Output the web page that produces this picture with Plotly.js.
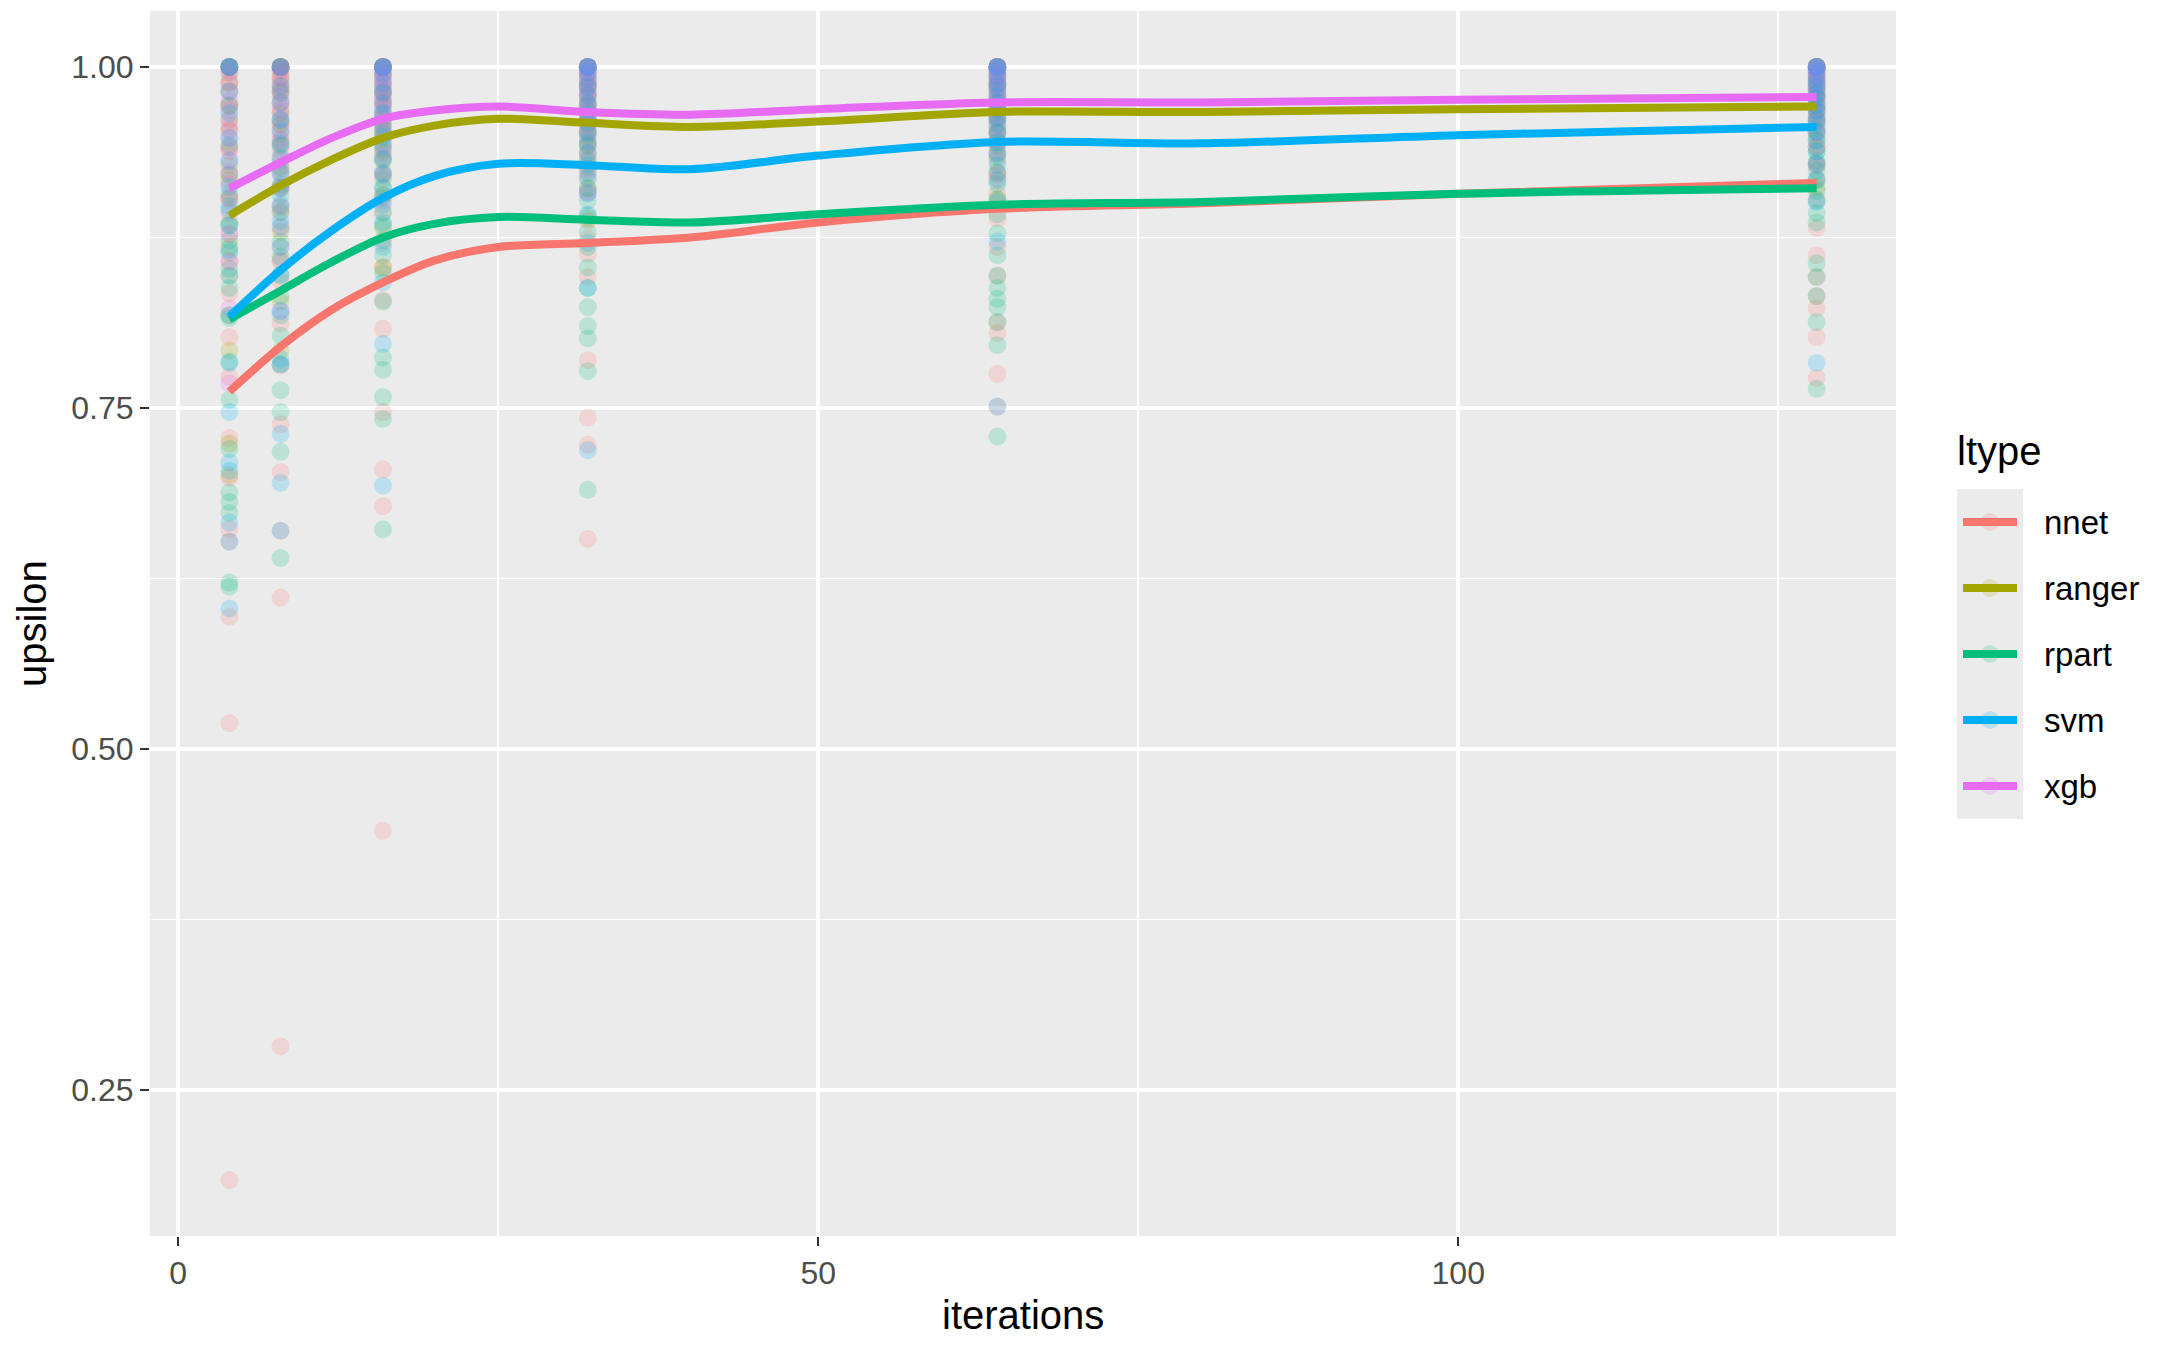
<!DOCTYPE html>
<html>
<head>
<meta charset="utf-8">
<script src="https://cdn.plot.ly/plotly-3.0.1.min.js"></script>
<style>html,body{margin:0;padding:0;background:#fff;}#chart{width:2170px;height:1347px;}</style>
</head>
<body>
<div id="chart"></div>
<script>
// ---- data ----
const iterations = [4, 8, 16, 32, 64, 128];
const types = ['nnet', 'ranger', 'rpart', 'svm', 'xgb'];
const colors = ['#F8766D', '#A3A500', '#00BF7D', '#00B0F6', '#E76BF3'];

// observed upsilon values per iteration column (order follows `iterations`)
const nnet = [
  [0.184, 0.519, 0.597, 0.652, 0.661, 0.699, 0.728, 0.773, 0.802, 0.834, 0.858, 0.877, 0.903, 0.921, 0.938, 0.957, 0.972, 0.988, 1.0, 1.0],
  [0.282, 0.611, 0.660, 0.703, 0.738, 0.781, 0.812, 0.843, 0.868, 0.893, 0.912, 0.927, 0.946, 0.958, 0.969, 0.983, 0.991, 1.0, 1.0, 1.0],
  [0.440, 0.678, 0.705, 0.747, 0.808, 0.829, 0.853, 0.871, 0.894, 0.906, 0.923, 0.937, 0.951, 0.962, 0.974, 0.981, 0.993, 1.0, 1.0, 1.0],
  [0.654, 0.723, 0.743, 0.785, 0.846, 0.863, 0.874, 0.887, 0.908, 0.919, 0.932, 0.943, 0.953, 0.961, 0.971, 0.979, 0.987, 0.995, 1.0, 1.0],
  [0.751, 0.775, 0.805, 0.813, 0.847, 0.868, 0.889, 0.907, 0.918, 0.931, 0.942, 0.951, 0.962, 0.969, 0.978, 0.986, 0.993, 1.0, 1.0, 1.0],
  [0.772, 0.802, 0.823, 0.832, 0.846, 0.862, 0.882, 0.903, 0.917, 0.929, 0.941, 0.952, 0.961, 0.968, 0.977, 0.985, 0.992, 1.0, 1.0, 1.0]
];
const ranger = [
  [0.701, 0.724, 0.792, 0.818, 0.847, 0.868, 0.886, 0.904, 0.917, 0.928, 0.941, 0.953, 0.962, 0.971, 0.982, 0.989, 0.996, 1.0, 1.0, 1.0],
  [0.792, 0.828, 0.858, 0.879, 0.897, 0.912, 0.923, 0.934, 0.943, 0.951, 0.958, 0.966, 0.974, 0.981, 0.986, 0.992, 0.997, 1.0, 1.0, 1.0],
  [0.853, 0.882, 0.906, 0.918, 0.931, 0.939, 0.947, 0.954, 0.959, 0.964, 0.971, 0.976, 0.981, 0.985, 0.989, 0.994, 0.998, 1.0, 1.0, 1.0],
  [0.889, 0.911, 0.926, 0.936, 0.943, 0.949, 0.954, 0.959, 0.963, 0.968, 0.972, 0.977, 0.981, 0.985, 0.988, 0.992, 0.996, 1.0, 1.0, 1.0],
  [0.903, 0.922, 0.936, 0.945, 0.952, 0.957, 0.962, 0.967, 0.971, 0.974, 0.978, 0.982, 0.985, 0.988, 0.991, 0.994, 0.997, 1.0, 1.0, 1.0],
  [0.912, 0.928, 0.941, 0.949, 0.955, 0.961, 0.966, 0.969, 0.973, 0.977, 0.980, 0.983, 0.986, 0.989, 0.992, 0.995, 0.998, 1.0, 1.0, 1.0]
];
const rpart = [
  [0.619, 0.622, 0.673, 0.681, 0.688, 0.720, 0.756, 0.784, 0.816, 0.838, 0.852, 0.864, 0.873, 0.884, 0.895, 0.907, 0.921, 0.943, 0.972, 1.0],
  [0.640, 0.718, 0.747, 0.763, 0.782, 0.803, 0.818, 0.832, 0.847, 0.861, 0.872, 0.883, 0.894, 0.906, 0.914, 0.926, 0.942, 0.961, 0.981, 1.0],
  [0.661, 0.742, 0.758, 0.778, 0.787, 0.828, 0.849, 0.862, 0.873, 0.884, 0.893, 0.904, 0.912, 0.921, 0.933, 0.944, 0.953, 0.966, 0.982, 1.0],
  [0.690, 0.777, 0.801, 0.810, 0.824, 0.838, 0.853, 0.868, 0.879, 0.891, 0.902, 0.911, 0.922, 0.931, 0.942, 0.951, 0.962, 0.973, 0.986, 1.0],
  [0.729, 0.796, 0.813, 0.824, 0.830, 0.838, 0.847, 0.862, 0.878, 0.892, 0.903, 0.914, 0.923, 0.934, 0.943, 0.952, 0.963, 0.974, 0.987, 1.0],
  [0.764, 0.813, 0.832, 0.846, 0.856, 0.886, 0.893, 0.902, 0.909, 0.917, 0.924, 0.931, 0.938, 0.946, 0.953, 0.961, 0.971, 0.979, 0.989, 1.0]
];
const svm = [
  [0.603, 0.652, 0.666, 0.704, 0.710, 0.747, 0.783, 0.818, 0.847, 0.866, 0.884, 0.898, 0.912, 0.931, 0.948, 0.966, 0.982, 1.0, 1.0, 1.0],
  [0.660, 0.695, 0.731, 0.782, 0.786, 0.821, 0.848, 0.868, 0.887, 0.899, 0.911, 0.922, 0.933, 0.944, 0.953, 0.962, 0.974, 0.986, 1.0, 1.0],
  [0.693, 0.797, 0.842, 0.868, 0.886, 0.899, 0.911, 0.922, 0.932, 0.941, 0.949, 0.957, 0.966, 0.973, 0.981, 0.988, 0.995, 1.0, 1.0, 1.0],
  [0.719, 0.838, 0.871, 0.892, 0.907, 0.918, 0.928, 0.937, 0.945, 0.952, 0.959, 0.966, 0.973, 0.979, 0.985, 0.991, 0.996, 1.0, 1.0, 1.0],
  [0.751, 0.872, 0.901, 0.917, 0.928, 0.937, 0.945, 0.952, 0.958, 0.963, 0.969, 0.974, 0.979, 0.984, 0.988, 0.993, 0.997, 1.0, 1.0, 1.0],
  [0.783, 0.901, 0.918, 0.929, 0.938, 0.946, 0.952, 0.958, 0.963, 0.968, 0.972, 0.977, 0.981, 0.985, 0.989, 0.993, 0.997, 1.0, 1.0, 1.0]
];
const xgb = [
  [0.768, 0.823, 0.857, 0.878, 0.893, 0.904, 0.914, 0.923, 0.932, 0.941, 0.948, 0.954, 0.961, 0.968, 0.975, 0.982, 0.989, 0.996, 1.0, 1.0],
  [0.821, 0.858, 0.882, 0.898, 0.911, 0.921, 0.931, 0.939, 0.947, 0.954, 0.961, 0.967, 0.973, 0.978, 0.983, 0.988, 0.993, 0.998, 1.0, 1.0],
  [0.902, 0.921, 0.934, 0.943, 0.951, 0.957, 0.962, 0.967, 0.971, 0.975, 0.979, 0.983, 0.986, 0.989, 0.992, 0.995, 0.998, 1.0, 1.0, 1.0],
  [0.908, 0.924, 0.937, 0.946, 0.953, 0.958, 0.963, 0.967, 0.971, 0.975, 0.979, 0.982, 0.985, 0.988, 0.991, 0.994, 0.997, 1.0, 1.0, 1.0],
  [0.921, 0.937, 0.948, 0.955, 0.961, 0.966, 0.970, 0.974, 0.977, 0.980, 0.983, 0.986, 0.988, 0.991, 0.993, 0.995, 0.998, 1.0, 1.0, 1.0],
  [0.928, 0.942, 0.952, 0.959, 0.964, 0.968, 0.972, 0.976, 0.979, 0.982, 0.985, 0.987, 0.990, 0.992, 0.994, 0.996, 0.998, 1.0, 1.0, 1.0]
];

// smoothed (loess) curves
const smoothX = [4, 8, 12, 16, 20, 25, 32, 40, 50, 64, 80, 100, 128];
const nnetSmooth   = [0.762, 0.795, 0.822, 0.842, 0.858, 0.868, 0.871, 0.875, 0.886, 0.896, 0.900, 0.907, 0.915];
const rangerSmooth = [0.891, 0.913, 0.932, 0.948, 0.957, 0.962, 0.959, 0.956, 0.960, 0.967, 0.967, 0.969, 0.971];
const rpartSmooth  = [0.815, 0.836, 0.857, 0.875, 0.885, 0.890, 0.888, 0.886, 0.892, 0.899, 0.901, 0.907, 0.911];
const svmSmooth    = [0.817, 0.851, 0.880, 0.904, 0.920, 0.929, 0.928, 0.925, 0.935, 0.945, 0.944, 0.950, 0.956];
const xgbSmooth    = [0.911, 0.930, 0.948, 0.962, 0.968, 0.971, 0.967, 0.965, 0.969, 0.974, 0.974, 0.976, 0.978];

const xTicks = [0, 50, 100];
const yTicks = [0.25, 0.50, 0.75, 1.00];
const yTickText = ['0.25', '0.50', '0.75', '1.00'];

// ---- build ----
const pointSets = [nnet, ranger, rpart, svm, xgb];
const smoothSets = [nnetSmooth, rangerSmooth, rpartSmooth, svmSmooth, xgbSmooth];

// one point layer: nnet, ranger, rpart rows first, then svm and xgb rows interleaved
const px = [], py = [], pc = [];
const addPoint = (i, j, k) => { px.push(iterations[j]); py.push(pointSets[i][j][k]); pc.push(colors[i]); };
[0, 1, 2].forEach(i => iterations.forEach((it, j) => pointSets[i][j].forEach((v, k) => addPoint(i, j, k))));
iterations.forEach((it, j) => {
  for (let k = 0; k < pointSets[3][j].length; k++) { addPoint(4, j, k); addPoint(3, j, k); }
});
const traces = [{
  type: 'scatter', mode: 'markers', x: px, y: py, showlegend: false, hoverinfo: 'skip',
  marker: { color: pc, size: 18, opacity: 0.2, line: { width: 0 } }
}];
types.forEach((t, i) => {
  traces.push({
    type: 'scatter', mode: 'lines', x: smoothX, y: smoothSets[i], name: t, showlegend: false,
    line: { color: colors[i], width: 8, shape: 'spline', smoothing: 0.9 }
  });
});

const W = 2170, H = 1347, L = 150, R = 274, T = 11, B = 111;
const pw = W - L - R, ph = H - T - B;
const px2x = p => (p - L) / pw;
const py2y = p => (H - B - p) / ph;

const font = 'Liberation Sans, Arial, sans-serif';
const shapes = [];
const annotations = [];

// axis titles
annotations.push({ xref: 'paper', yref: 'paper', x: px2x(1023), y: py2y(1315), text: 'iterations',
  showarrow: false, xanchor: 'center', yanchor: 'middle', font: { family: font, size: 40, color: '#000' } });
annotations.push({ xref: 'paper', yref: 'paper', x: px2x(32), y: py2y(624), text: 'upsilon', textangle: -90,
  showarrow: false, xanchor: 'center', yanchor: 'middle', font: { family: font, size: 40, color: '#000' } });

// legend (ggplot style)
annotations.push({ xref: 'paper', yref: 'paper', x: px2x(1955), y: py2y(451), text: 'ltype',
  showarrow: false, xanchor: 'left', yanchor: 'middle', font: { family: font, size: 40, color: '#000' } });
shapes.push({ type: 'rect', xref: 'paper', yref: 'paper', x0: px2x(1957), x1: px2x(2023), y0: py2y(819), y1: py2y(489),
  fillcolor: '#EBEBEB', line: { width: 0 }, layer: 'below' });
types.forEach((t, i) => {
  const cy = 522 + 66 * i;
  shapes.push({ type: 'circle', xref: 'paper', yref: 'paper', x0: px2x(1981), x1: px2x(1999), y0: py2y(cy + 9), y1: py2y(cy - 9),
    fillcolor: colors[i], opacity: 0.2, line: { width: 0 } });
  shapes.push({ type: 'line', xref: 'paper', yref: 'paper', x0: px2x(1963), x1: px2x(2017), y0: py2y(cy), y1: py2y(cy),
    line: { color: colors[i], width: 8 } });
  annotations.push({ xref: 'paper', yref: 'paper', x: px2x(2042), y: py2y(cy), text: t,
    showarrow: false, xanchor: 'left', yanchor: 'middle', font: { family: font, size: 33, color: '#000' } });
});

const layout = {
  width: W, height: H,
  margin: { l: L, r: R, t: T, b: B, pad: 0 },
  paper_bgcolor: '#FFFFFF', plot_bgcolor: '#EBEBEB',
  showlegend: false,
  font: { family: font },
  xaxis: {
    range: [-2.2, 134.2], tickmode: 'array', tickvals: xTicks, ticktext: xTicks.map(String),
    showgrid: true, gridcolor: '#FFFFFF', gridwidth: 3.5, zeroline: false, showline: false,
    ticks: 'outside', ticklen: 9, tickwidth: 2.5, tickcolor: '#333333',
    tickfont: { family: font, size: 32, color: '#4D4D4D' },
    minor: { tickmode: 'array', tickvals: [25, 75, 125], showgrid: true, gridcolor: '#FFFFFF', gridwidth: 1.8, ticks: '' }
  },
  yaxis: {
    range: [0.143, 1.041], tickmode: 'array', tickvals: yTicks, ticktext: yTickText,
    showgrid: true, gridcolor: '#FFFFFF', gridwidth: 3.5, zeroline: false, showline: false,
    ticks: 'outside', ticklen: 9, tickwidth: 2.5, tickcolor: '#333333',
    tickfont: { family: font, size: 32, color: '#4D4D4D' },
    minor: { tickmode: 'array', tickvals: [0.375, 0.625, 0.875], showgrid: true, gridcolor: '#FFFFFF', gridwidth: 1.8, ticks: '' }
  },
  shapes: shapes,
  annotations: annotations
};

Plotly.newPlot('chart', traces, layout, { displayModeBar: false, staticPlot: true });
</script>
</body>
</html>
